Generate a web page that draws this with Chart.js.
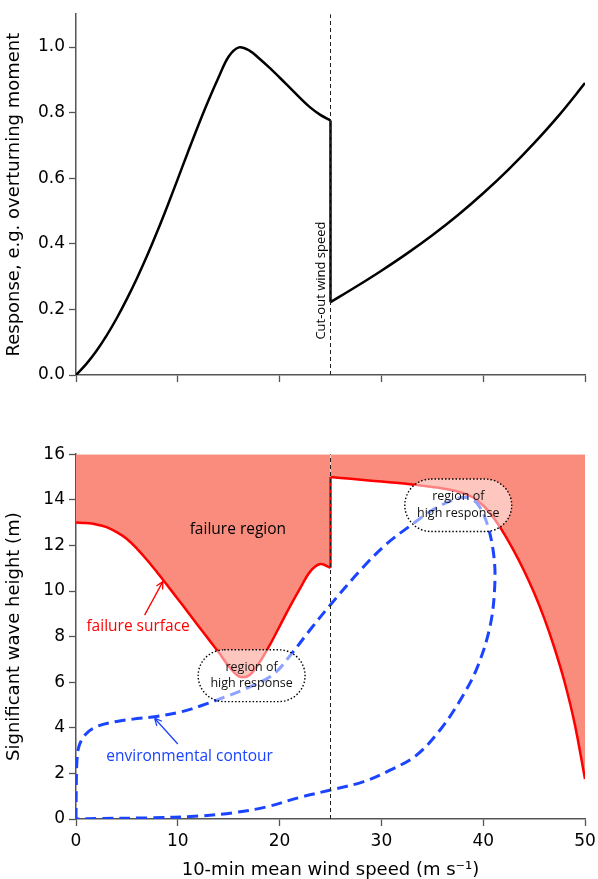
<!DOCTYPE html>
<html>
<head>
<meta charset="utf-8">
<script src="https://cdn.jsdelivr.net/npm/chart.js@4.4.1/dist/chart.umd.min.js"></script>
<style>
  body { margin: 0; background: #fff; }
  .panel { position: absolute; left: 0; width: 598px; }
  #top { top: 0; height: 390px; }
  #bottom { top: 440px; height: 439px; }
</style>
</head>
<body>
<div class="panel" id="top"><canvas id="responseChart"></canvas></div>
<div class="panel" id="bottom"><canvas id="contourChart"></canvas></div>
<script>
// --- data ---
const CUT_OUT = 25; // cut-out wind speed (m/s)

// response curve, below and above cut-out
const respBelowX = [0, 1, 2, 3, 4, 5, 6, 7, 8, 9, 10, 11, 12, 13, 14, 15, 16, 17, 18, 19, 20, 21, 22, 23, 24, 25];
const respBelowY = [0, 0.033, 0.073, 0.12, 0.173, 0.232, 0.296, 0.365, 0.439, 0.517, 0.598, 0.68, 0.76, 0.836, 0.907, 0.971, 0.999, 0.99, 0.965, 0.937, 0.907, 0.876, 0.845, 0.816, 0.793, 0.776];
const respAboveX = [25, 27.5, 30, 32.5, 35, 37.5, 40, 42.5, 45, 47.5, 50];
const respAboveY = [0.222, 0.269, 0.318, 0.37, 0.426, 0.487, 0.554, 0.627, 0.707, 0.794, 0.89];

// failure surface (Hs) left and right of cut-out
const failLeftX = [0, 1, 2, 3, 4, 5, 6, 7, 8, 9, 10, 11, 12, 13, 14, 15, 16, 17, 18, 19, 20, 21, 22, 23, 24, 25];
const failLeftY = [13.0, 12.98, 12.92, 12.8, 12.58, 12.28, 11.85, 11.35, 10.8, 10.23, 9.65, 9.07, 8.48, 7.9, 7.32, 6.7, 6.26, 6.3, 6.85, 7.6, 8.45, 9.3, 10.1, 10.85, 11.18, 11.02];
const failRightX = [25, 27, 29, 31, 33, 35, 36, 37, 38, 39, 40, 41, 42, 43, 44, 45, 46, 47, 48, 49, 50];
const failRightY = [15.0, 14.92, 14.84, 14.76, 14.67, 14.56, 14.5, 14.42, 14.3, 14.1, 13.75, 13.22, 12.55, 11.77, 10.9, 9.92, 8.8, 7.5, 6.0, 4.15, 1.75];

// environmental contour, traced from the origin up, over and back along the bottom
const contourX = [0, 0.03, 0.1, 0.3, 0.9, 2, 4, 5.6, 7.9, 10.5, 12.8, 14.8, 16.7, 19.35, 21, 23, 25, 28.2, 30.5, 32.8, 35.2, 37.4, 38.4, 39.4, 40.35, 41.0, 41.15, 40.7, 39.4, 37.7, 35.7, 33.4, 30.8, 28.2, 24.9, 22, 18.7, 15.4, 12.1, 7.2, 2.3, 0];
const contourY = [0, 1.5, 2.6, 3.2, 3.7, 4.05, 4.28, 4.38, 4.5, 4.72, 5.05, 5.38, 5.72, 6.33, 7.15, 8.3, 9.4, 11.04, 12.06, 12.85, 13.6, 14.05, 14.1, 13.85, 13.0, 11.7, 10.39, 8.51, 6.63, 5.18, 3.87, 2.78, 2.13, 1.63, 1.26, 0.95, 0.53, 0.27, 0.13, 0.05, 0.02, 0];

const RED = '#ff0000';
const BLUE = '#1a44ff';
const FILL = '#fa8c7e';
const AXIS = '#555';
const TICK_FONT = { family: 'DejaVu Sans', size: 17 };
const TITLE_FONT = { family: 'DejaVu Sans', size: 18 };
const NOTE_FONT = 'Open Sans';

const zip = (xs, ys) => xs.map((x, i) => ({ x, y: ys[i] }));

// --- annotations on the lower panel ---
const highBoxes = [
  { x0: 12.0, x1: 22.5, y0: 5.15, y1: 7.42 },
  { x0: 32.3, x1: 42.8, y0: 12.61, y1: 14.91 }
];
const notes = [
  { text: 'failure region', x: 15.9, y: 12.7, color: '#000' },
  { text: 'failure surface', x: 6.1, y: 8.43, color: RED },
  { text: 'environmental contour', x: 11.16, y: 2.74, color: BLUE }
];
const arrows = [
  { from: [6.74, 8.94], to: [8.54, 10.42], color: RED },
  { from: [10.0, 3.29], to: [7.72, 4.42], color: BLUE }
];

function xAxis(withLabels) {
  return {
    type: 'linear', min: 0, max: 50,
    afterFit: s => {
      s.height = withLabels ? 60 : 15;
      s.paddingLeft = 0;
      s.paddingRight = 0;
    },
    border: { display: true, color: AXIS, width: 1.5 },
    grid: { display: true, drawOnChartArea: false, drawTicks: true, tickLength: 7, tickWidth: 1.3, tickColor: AXIS },
    ticks: { display: withLabels, stepSize: 10, color: '#000', font: TICK_FONT, padding: 5, maxRotation: 0 },
    title: {
      display: withLabels, text: '10-min mean wind speed (m s\u207B\u00B9)',
      color: '#000', font: TITLE_FONT, padding: { top: 0, bottom: -2 }
    }
  };
}

function yAxis(max, step, title, fmt) {
  return {
    type: 'linear', min: 0, max: max,
    afterFit: s => { s.width = 76; },
    border: { display: true, color: AXIS, width: 1.5 },
    grid: { display: true, drawOnChartArea: false, drawTicks: true, tickLength: 7, tickWidth: 1.3, tickColor: AXIS },
    ticks: { stepSize: step, includeBounds: false, color: '#000', font: TICK_FONT, padding: 4, callback: fmt },
    title: { display: true, text: title, color: '#000', font: TITLE_FONT, padding: { top: 4, bottom: 0 } }
  };
}

const baseOpts = {
  responsive: true, maintainAspectRatio: false, animation: false,
  plugins: { legend: { display: false }, tooltip: { enabled: false } },
  elements: { point: { radius: 0 } }
};

// label along the cut-out line
const cutOutLabel = {
  id: 'cutOutLabel',
  afterDatasetsDraw(chart) {
    const { ctx, scales: { x, y } } = chart;
    ctx.save();
    ctx.translate(x.getPixelForValue(CUT_OUT) - 6, y.getPixelForValue(0.288));
    ctx.rotate(-Math.PI / 2);
    ctx.font = '13px "' + NOTE_FONT + '"';
    ctx.fillStyle = '#000';
    ctx.textAlign = 'center';
    ctx.textBaseline = 'alphabetic';
    ctx.fillText('Cut-out wind speed', 0, 0);
    ctx.restore();
  }
};

new Chart(document.getElementById('responseChart'), {
  type: 'line',
  data: {
    datasets: [
      { data: [{ x: CUT_OUT, y: 0 }, { x: CUT_OUT, y: 1.1 }], borderColor: '#222', borderWidth: 1, borderDash: [4, 3], order: 0 },
      { data: zip(respBelowX, respBelowY), borderColor: '#000', borderWidth: 2.5, tension: 0.35, order: 1 },
      { data: [{ x: CUT_OUT, y: respBelowY[respBelowY.length - 1] }, { x: CUT_OUT, y: respAboveY[0] }], borderColor: '#000', borderWidth: 2.5, order: 1 },
      { data: zip(respAboveX, respAboveY), borderColor: '#000', borderWidth: 2.5, tension: 0.35, order: 1 }
    ]
  },
  options: {
    ...baseOpts,
    layout: { padding: { top: 8, right: 13, left: 0, bottom: 0 } },
    scales: {
      x: xAxis(false),
      y: yAxis(1.1, 0.2, 'Response, e.g. overturning moment', v => v.toFixed(1))
    }
  },
  plugins: [cutOutLabel]
});

// high-response boxes, labels and arrows
const contourNotes = {
  id: 'contourNotes',
  afterDatasetsDraw(chart) {
    const { ctx, scales: { x, y } } = chart;
    ctx.save();
    highBoxes.forEach(b => {
      const l = x.getPixelForValue(b.x0), r = x.getPixelForValue(b.x1);
      const t = y.getPixelForValue(b.y1), btm = y.getPixelForValue(b.y0);
      const rad = (btm - t) / 2;
      ctx.beginPath();
      ctx.moveTo(l + rad, t);
      ctx.lineTo(r - rad, t);
      ctx.arc(r - rad, t + rad, rad, -Math.PI / 2, Math.PI / 2);
      ctx.lineTo(l + rad, btm);
      ctx.arc(l + rad, t + rad, rad, Math.PI / 2, Math.PI * 1.5);
      ctx.closePath();
      ctx.fillStyle = 'rgba(255,255,255,0.5)';
      ctx.fill();
      ctx.setLineDash([1.5, 2]);
      ctx.lineWidth = 1.4;
      ctx.strokeStyle = '#000';
      ctx.stroke();
      ctx.setLineDash([]);
      const cx = (l + r) / 2, cy = (t + btm) / 2;
      ctx.fillStyle = '#111';
      ctx.font = '12.5px "' + NOTE_FONT + '"';
      ctx.textAlign = 'center';
      ctx.textBaseline = 'middle';
      ctx.fillText('region of', cx, cy - 8.5);
      ctx.fillText('high response', cx, cy + 8);
    });

    notes.forEach(n => {
      ctx.font = '15.5px "' + NOTE_FONT + '"';
      ctx.fillStyle = n.color;
      ctx.textAlign = 'center';
      ctx.textBaseline = 'middle';
      ctx.fillText(n.text, x.getPixelForValue(n.x), y.getPixelForValue(n.y));
    });

    arrows.forEach(a => {
      const fx = x.getPixelForValue(a.from[0]), fy = y.getPixelForValue(a.from[1]);
      const tx = x.getPixelForValue(a.to[0]), ty = y.getPixelForValue(a.to[1]);
      const ang = Math.atan2(ty - fy, tx - fx);
      ctx.strokeStyle = a.color;
      ctx.lineWidth = 1.3;
      ctx.beginPath();
      ctx.moveTo(fx, fy);
      ctx.lineTo(tx, ty);
      [-0.45, 0.45].forEach(d => {
        ctx.moveTo(tx, ty);
        ctx.lineTo(tx - 8 * Math.cos(ang + d), ty - 8 * Math.sin(ang + d));
      });
      ctx.stroke();
    });
    ctx.restore();
  }
};

new Chart(document.getElementById('contourChart'), {
  type: 'line',
  data: {
    datasets: [
      { data: [{ x: CUT_OUT, y: 0 }, { x: CUT_OUT, y: 16 }], borderColor: '#222', borderWidth: 1, borderDash: [4, 3], order: 0 },
      { data: zip(contourX, contourY), borderColor: BLUE, borderWidth: 3, borderDash: [11, 6], tension: 0.35, fill: false, order: 1 },
      { data: [{ x: CUT_OUT, y: failLeftY[failLeftY.length - 1] }, { x: CUT_OUT, y: failRightY[0] }], borderColor: RED, borderWidth: 2.5, order: 2 },
      { data: zip(failLeftX, failLeftY), borderColor: RED, borderWidth: 2.5, tension: 0.35, fill: 'end', backgroundColor: FILL, order: 3 },
      { data: zip(failRightX, failRightY), borderColor: RED, borderWidth: 2.5, tension: 0.35, fill: 'end', backgroundColor: FILL, order: 3 }
    ]
  },
  options: {
    ...baseOpts,
    layout: { padding: { top: 11, right: 13, left: 0, bottom: 0 } },
    scales: {
      x: xAxis(true),
      y: yAxis(16, 2, 'Significant wave height (m)', v => v)
    }
  },
  plugins: [contourNotes]
});
</script>
</body>
</html>
